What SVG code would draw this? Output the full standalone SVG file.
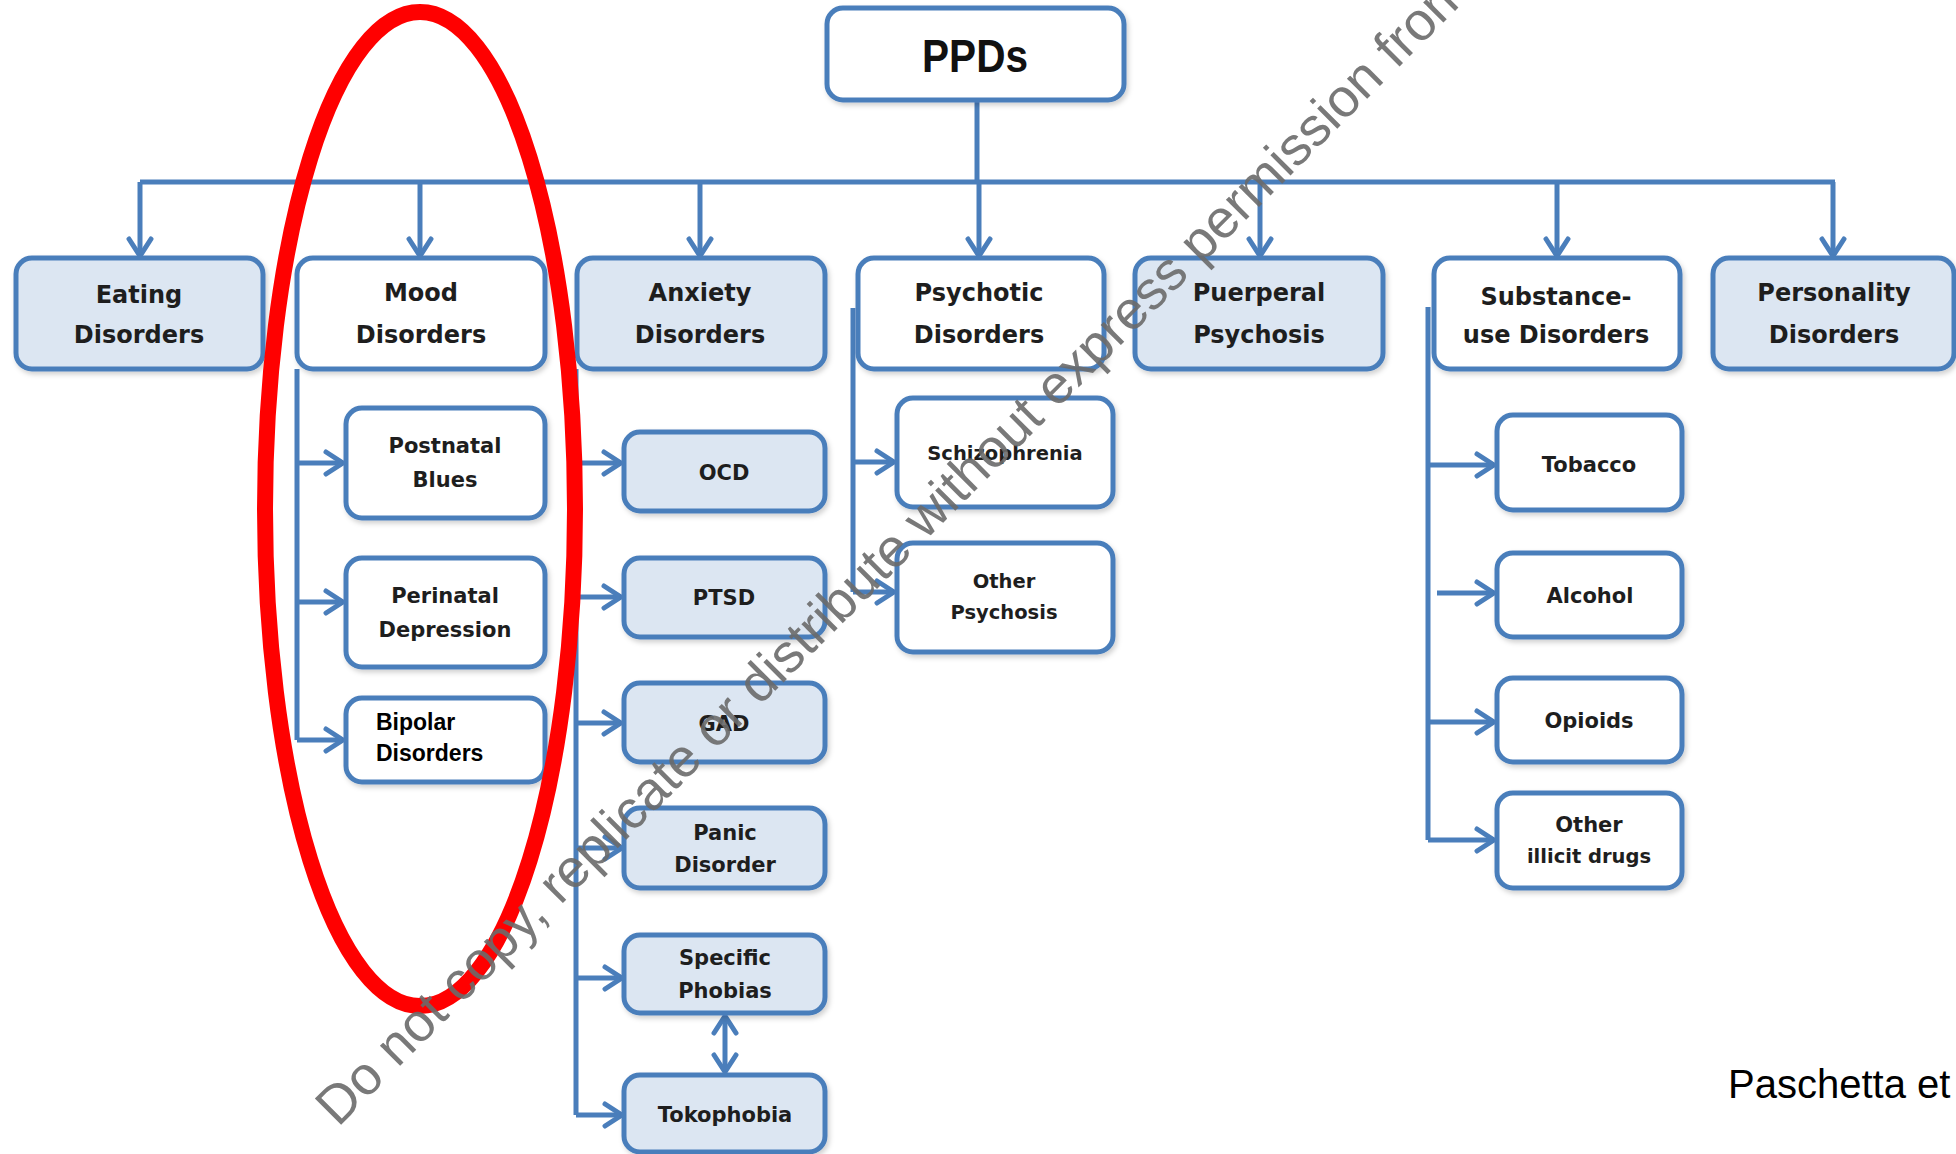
<svg xmlns="http://www.w3.org/2000/svg" width="1956" height="1154" viewBox="0 0 1956 1154">
<defs>
<style>
.box{stroke:#4a7ebb;stroke-width:5;filter:url(#sh)}
.lt{fill:#dce6f2}
.wt{fill:#ffffff}
.t1{font-family:"DejaVu Sans",sans-serif;font-weight:bold;font-size:24px;fill:#1e1e1e;text-anchor:middle}
.t2{font-family:"DejaVu Sans",sans-serif;font-weight:bold;font-size:21px;fill:#1e1e1e;text-anchor:middle}
.t3{font-family:"DejaVu Sans",sans-serif;font-weight:bold;font-size:19.5px;fill:#1e1e1e;text-anchor:middle}
.con{stroke:#4a7ebb;stroke-width:5;fill:none}
.arr{marker-end:url(#ah)}
</style>
<filter id="sh" x="-10%" y="-10%" width="130%" height="140%">
<feDropShadow dx="2" dy="3" stdDeviation="2.5" flood-color="#000" flood-opacity="0.18"/>
</filter>
<marker id="ah" markerUnits="userSpaceOnUse" viewBox="0 0 30 30" markerWidth="30" markerHeight="30" refX="27" refY="15" orient="auto-start-reverse">
<path d="M10,4 L27,15 L10,26" fill="none" stroke="#4a7ebb" stroke-width="5" stroke-linecap="round" stroke-linejoin="round"/>
</marker>
</defs>
<rect width="1956" height="1154" fill="#ffffff"/>

<g id="connectors">
<path class="con" d="M977,101 V182"/>
<path class="con" d="M140,182 H1835"/>
<path class="con arr" d="M140,182 V256"/>
<path class="con arr" d="M420,182 V256"/>
<path class="con arr" d="M700,182 V256"/>
<path class="con arr" d="M979,182 V256"/>
<path class="con arr" d="M1260,182 V256"/>
<path class="con arr" d="M1557,182 V256"/>
<path class="con arr" d="M1833,182 V256"/>
<path class="con" d="M297,369 V740"/>
<path class="con arr" d="M297,463 H343"/>
<path class="con arr" d="M297,602 H343"/>
<path class="con arr" d="M297,740 H343"/>
<path class="con" d="M576,369 V1115"/>
<path class="con arr" d="M576,463 H621"/>
<path class="con arr" d="M576,597 H621"/>
<path class="con arr" d="M576,723 H621"/>
<path class="con arr" d="M576,848 H622"/>
<path class="con arr" d="M576,978 H622"/>
<path class="con arr" d="M576,1115 H622"/>
<path class="con arr" style="marker-start:url(#ah)" d="M725,1016 V1072"/>
<path class="con" d="M853,308 V592"/>
<path class="con arr" d="M853,462 H894"/>
<path class="con arr" d="M853,592 H894"/>
<path class="con" d="M1428,307 V840"/>
<path class="con arr" d="M1428,465 H1494"/>
<path class="con arr" d="M1437,593 H1494"/>
<path class="con arr" d="M1428,722 H1494"/>
<path class="con arr" d="M1428,840 H1494"/>
</g>

<g id="ppds">
<rect class="box wt" x="827" y="8" width="297" height="92" rx="16"/>
<text x="975" y="72" style="font-family:'Liberation Sans',sans-serif;font-weight:bold;font-size:46px;fill:#111;text-anchor:middle" textLength="106" lengthAdjust="spacingAndGlyphs">PPDs</text>
</g>

<g id="eating">
<rect class="box lt" x="16" y="258" width="247" height="111" rx="16"/>
<text class="t1" x="139" y="303">Eating</text><text class="t1" x="139" y="343">Disorders</text>
</g>
<g id="mood">
<rect class="box wt" x="297" y="258" width="248" height="111" rx="16"/>
<text class="t1" x="421" y="301">Mood</text><text class="t1" x="421" y="343">Disorders</text>
</g>
<g id="anxiety">
<rect class="box lt" x="577" y="258" width="248" height="111" rx="16"/>
<text class="t1" x="700" y="301">Anxiety</text><text class="t1" x="700" y="343">Disorders</text>
</g>
<g id="psychotic">
<rect class="box wt" x="858" y="258" width="246" height="111" rx="16"/>
<text class="t1" x="979" y="301">Psychotic</text><text class="t1" x="979" y="343">Disorders</text>
</g>
<g id="puerperal">
<rect class="box lt" x="1135" y="258" width="248" height="111" rx="16"/>
<text class="t1" x="1259" y="301">Puerperal</text><text class="t1" x="1259" y="343">Psychosis</text>
</g>
<g id="substance">
<rect class="box wt" x="1434" y="258" width="246" height="111" rx="16"/>
<text class="t1" x="1556" y="305">Substance-</text><text class="t1" x="1556" y="343">use Disorders</text>
</g>
<g id="personality">
<rect class="box lt" x="1713" y="258" width="241" height="111" rx="16"/>
<text class="t1" x="1834" y="301">Personality</text><text class="t1" x="1834" y="343">Disorders</text>
</g>

<g id="postnatal-blues">
<rect class="box wt" x="346" y="408" width="199" height="110" rx="16"/>
<text class="t2" x="445" y="453">Postnatal</text><text class="t2" x="445" y="487">Blues</text>
</g>
<g id="perinatal-depression">
<rect class="box wt" x="346" y="558" width="199" height="109" rx="16"/>
<text class="t2" x="445" y="603">Perinatal</text><text class="t2" x="445" y="637">Depression</text>
</g>
<g id="bipolar">
<rect class="box wt" x="346" y="698" width="199" height="84" rx="16"/>
<text x="376" y="730" style="font-family:'Liberation Sans',sans-serif;font-weight:bold;font-size:23px;fill:#000">Bipolar</text>
<text x="376" y="761" style="font-family:'Liberation Sans',sans-serif;font-weight:bold;font-size:23px;fill:#000">Disorders</text>
</g>

<g id="ocd">
<rect class="box lt" x="624" y="432" width="201" height="79" rx="16"/>
<text class="t2" x="724" y="480">OCD</text>
</g>
<g id="ptsd">
<rect class="box lt" x="624" y="558" width="201" height="79" rx="16"/>
<text class="t2" x="724" y="605">PTSD</text>
</g>
<g id="gad">
<rect class="box lt" x="624" y="683" width="201" height="79" rx="16"/>
<text class="t2" x="724" y="731">GAD</text>
</g>
<g id="panic">
<rect class="box lt" x="624" y="808" width="201" height="80" rx="16"/>
<text class="t2" x="725" y="840">Panic</text><text class="t2" x="725" y="872">Disorder</text>
</g>
<g id="specific-phobias">
<rect class="box lt" x="624" y="935" width="201" height="78" rx="16"/>
<text class="t2" x="725" y="965">Specific</text><text class="t2" x="725" y="998">Phobias</text>
</g>
<g id="tokophobia">
<rect class="box lt" x="624" y="1075" width="201" height="77" rx="16"/>
<text class="t2" x="725" y="1122">Tokophobia</text>
</g>

<g id="schizophrenia">
<rect class="box wt" x="897" y="398" width="216" height="109" rx="16"/>
<text class="t3" x="1005" y="460">Schizophrenia</text>
</g>
<g id="other-psychosis">
<rect class="box wt" x="897" y="543" width="216" height="109" rx="16"/>
<text class="t3" x="1004" y="588">Other</text><text class="t3" x="1004" y="619">Psychosis</text>
</g>

<g id="tobacco">
<rect class="box wt" x="1497" y="415" width="185" height="95" rx="16"/>
<text class="t2" x="1589" y="472">Tobacco</text>
</g>
<g id="alcohol">
<rect class="box wt" x="1497" y="553" width="185" height="84" rx="16"/>
<text class="t2" x="1590" y="603">Alcohol</text>
</g>
<g id="opioids">
<rect class="box wt" x="1497" y="678" width="185" height="84" rx="16"/>
<text class="t2" x="1589" y="728">Opioids</text>
</g>
<g id="other-illicit">
<rect class="box wt" x="1497" y="793" width="185" height="95" rx="16"/>
<text class="t2" x="1589" y="832">Other</text><text class="t3" x="1589" y="863">illicit drugs</text>
</g>

<ellipse cx="420" cy="509" rx="155" ry="497" fill="none" stroke="#ff0000" stroke-width="16"/>

<text x="338" y="1128" transform="rotate(-45 338 1128)" style="font-family:'Liberation Sans',sans-serif;font-size:54px;fill:#6a6a6a;fill-opacity:0.9">Do not copy, replicate or distribute without express permission from</text>

<text x="1728" y="1098" style="font-family:'Liberation Sans',sans-serif;font-size:40px;fill:#000">Paschetta et</text>
</svg>
